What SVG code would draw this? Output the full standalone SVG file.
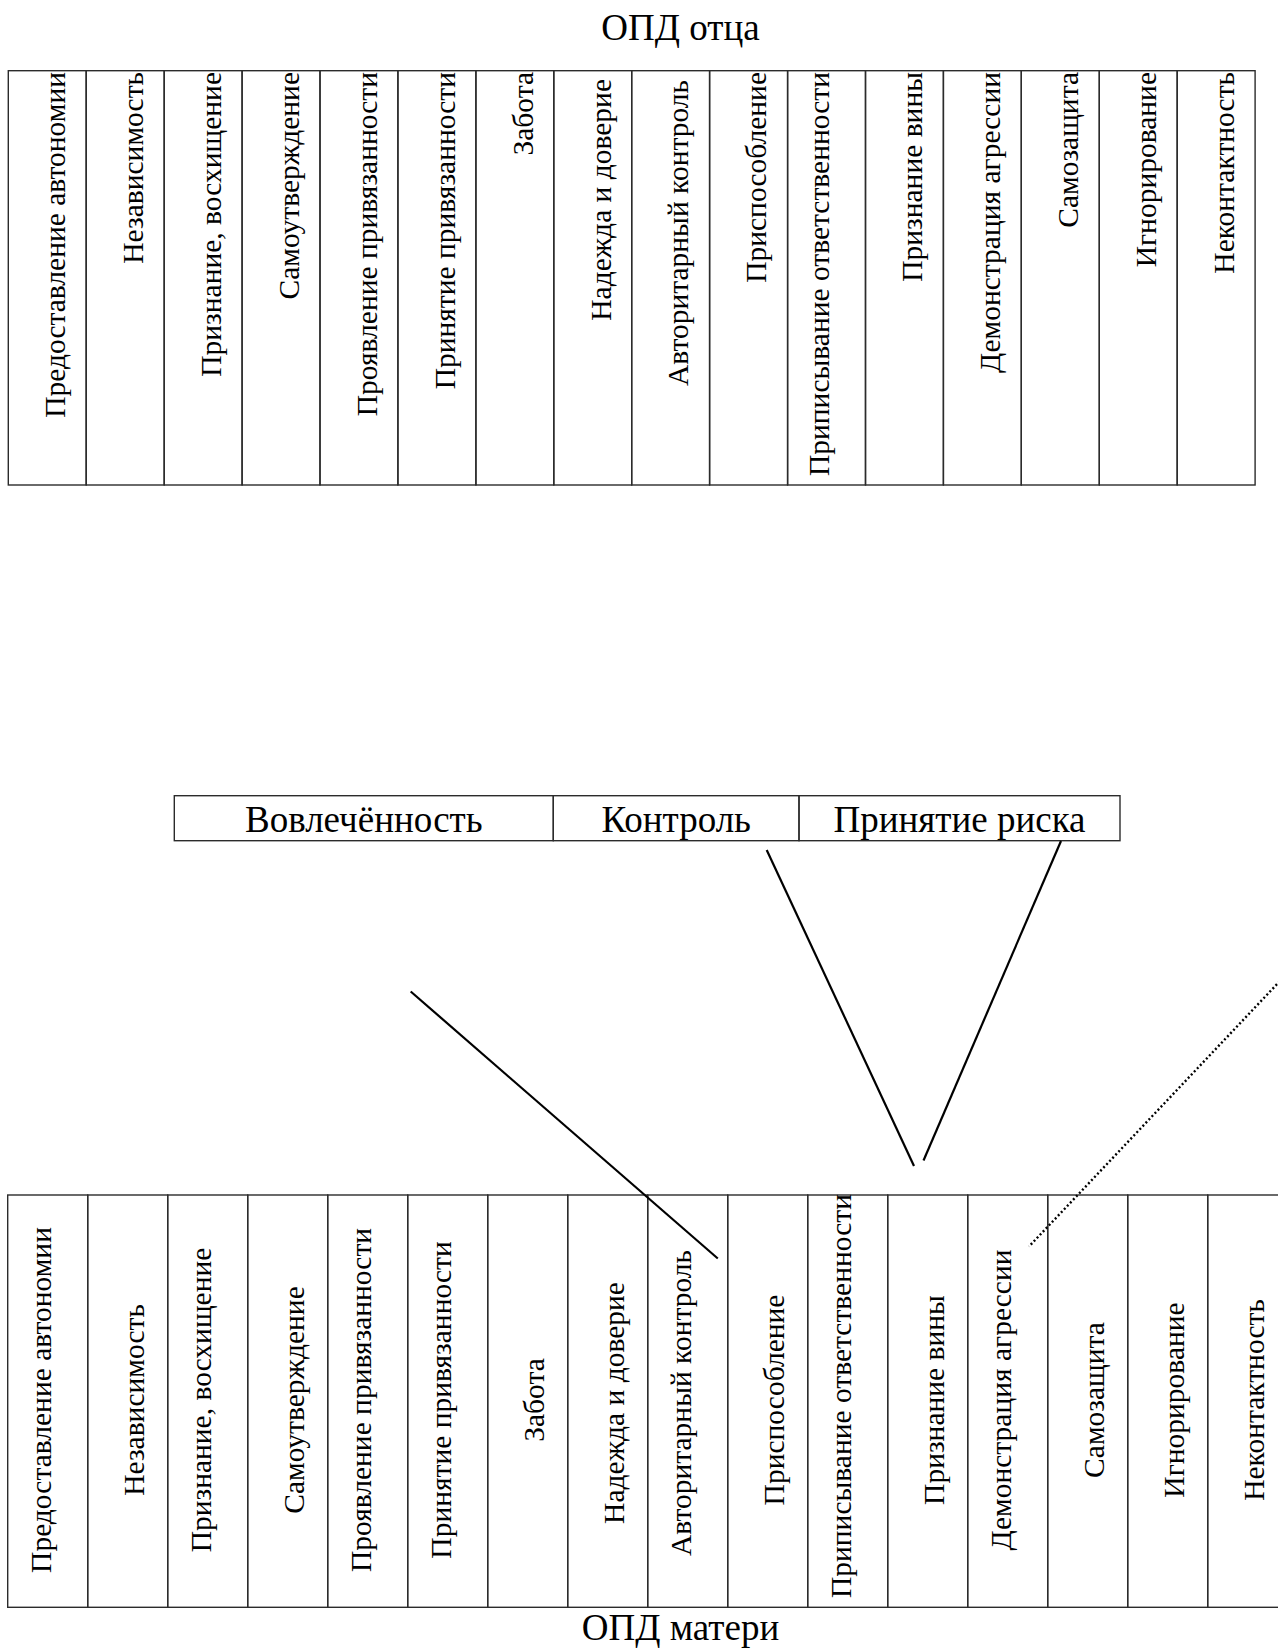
<svg xmlns="http://www.w3.org/2000/svg" width="1278" height="1649" viewBox="0 0 1278 1649">
<style>
.bg{fill:#ffffff}
.cell{fill:none;stroke:#2b2b2b;stroke-width:1.4}
.t{font-family:"Liberation Serif","Times New Roman",serif;fill:#000}
.v{font-size:29.5px}
.h{font-size:37px;text-anchor:middle}
.top{text-anchor:end}
.bot{text-anchor:middle}
.conn{stroke:#000;stroke-width:2.2;fill:none;stroke-linecap:butt}
.dot{stroke:#000;stroke-width:2.4;fill:none;stroke-dasharray:2 2.4}
</style>
<rect class="bg" x="0" y="0" width="1278" height="1649"/>

<g id="title-father"><text class="t h" x="680.5" y="39.5">ОПД отца</text></g>

<g id="father-table">
<g id="f1"><rect class="cell" x="8.3" y="70.7" width="77.9" height="414.3"/><text class="t v top" transform="translate(65,72) rotate(-90)">Предоставление автономии</text></g>
<g id="f2"><rect class="cell" x="86.2" y="70.7" width="78" height="414.3"/><text class="t v top" transform="translate(142.9,72) rotate(-90)">Независимость</text></g>
<g id="f3"><rect class="cell" x="164.2" y="70.7" width="77.9" height="414.3"/><text class="t v top" transform="translate(220.9,72) rotate(-90)">Признание, восхищение</text></g>
<g id="f4"><rect class="cell" x="242.1" y="70.7" width="77.9" height="414.3"/><text class="t v top" transform="translate(298.8,72) rotate(-90)">Самоутверждение</text></g>
<g id="f5"><rect class="cell" x="320" y="70.7" width="77.9" height="414.3"/><text class="t v top" transform="translate(376.7,72) rotate(-90)">Проявление привязанности</text></g>
<g id="f6"><rect class="cell" x="397.9" y="70.7" width="78" height="414.3"/><text class="t v top" transform="translate(454.6,72) rotate(-90)">Принятие привязанности</text></g>
<g id="f7"><rect class="cell" x="475.9" y="70.7" width="77.9" height="414.3"/><text class="t v top" transform="translate(532.6,72) rotate(-90)">Забота</text></g>
<g id="f8"><rect class="cell" x="553.8" y="70.7" width="77.9" height="414.3"/><text class="t v top" transform="translate(610.5,79) rotate(-90)">Надежда и доверие</text></g>
<g id="f9"><rect class="cell" x="631.7" y="70.7" width="77.9" height="414.3"/><text class="t v top" transform="translate(688.4,80) rotate(-90)">Авторитарный контроль</text></g>
<g id="f10"><rect class="cell" x="709.6" y="70.7" width="78" height="414.3"/><text class="t v top" transform="translate(766.3,72) rotate(-90)">Приспособление</text></g>
<g id="f11"><rect class="cell" x="787.6" y="70.7" width="77.9" height="414.3"/><text class="t v top" transform="translate(829.2,72) rotate(-90)">Приписывание ответственности</text></g>
<g id="f12"><rect class="cell" x="865.5" y="70.7" width="77.9" height="414.3"/><text class="t v top" transform="translate(922.2,72) rotate(-90)">Признание вины</text></g>
<g id="f13"><rect class="cell" x="943.4" y="70.7" width="77.9" height="414.3"/><text class="t v top" transform="translate(1000.1,72) rotate(-90)">Демонстрация агрессии</text></g>
<g id="f14"><rect class="cell" x="1021.3" y="70.7" width="78" height="414.3"/><text class="t v top" transform="translate(1078,72) rotate(-90)">Самозащита</text></g>
<g id="f15"><rect class="cell" x="1099.3" y="70.7" width="77.9" height="414.3"/><text class="t v top" transform="translate(1156,72) rotate(-90)">Игнорирование</text></g>
<g id="f16"><rect class="cell" x="1177.2" y="70.7" width="77.9" height="414.3"/><text class="t v top" transform="translate(1233.9,72) rotate(-90)">Неконтактность</text></g>
</g>

<g id="dimensions">
<g id="d-involvement"><rect class="cell" x="174.3" y="795.7" width="379" height="45"/><text class="t h" x="363.8" y="832.3">Вовлечённость</text></g>
<g id="d-control"><rect class="cell" x="553.3" y="795.7" width="245.7" height="45"/><text class="t h" x="676.2" y="832.3">Контроль</text></g>
<g id="d-risk"><rect class="cell" x="799" y="795.7" width="321" height="45"/><text class="t h" x="959.5" y="832.3">Принятие риска</text></g>
</g>

<g id="mother-table">
<g id="m1"><rect class="cell" x="7.7" y="1195" width="80" height="412.3"/><text class="t v bot" transform="translate(50.7,1400) rotate(-90)">Предоставление автономии</text></g>
<g id="m2"><rect class="cell" x="87.7" y="1195" width="80" height="412.3"/><text class="t v bot" transform="translate(143.7,1400) rotate(-90)">Независимость</text></g>
<g id="m3"><rect class="cell" x="167.7" y="1195" width="80" height="412.3"/><text class="t v bot" transform="translate(210.7,1400) rotate(-90)">Признание, восхищение</text></g>
<g id="m4"><rect class="cell" x="247.7" y="1195" width="80" height="412.3"/><text class="t v bot" transform="translate(303.7,1400) rotate(-90)">Самоутверждение</text></g>
<g id="m5"><rect class="cell" x="327.7" y="1195" width="80" height="412.3"/><text class="t v bot" transform="translate(370.7,1400) rotate(-90)">Проявление привязанности</text></g>
<g id="m6"><rect class="cell" x="407.7" y="1195" width="80" height="412.3"/><text class="t v bot" transform="translate(450.7,1400) rotate(-90)">Принятие привязанности</text></g>
<g id="m7"><rect class="cell" x="487.7" y="1195" width="80" height="412.3"/><text class="t v bot" transform="translate(543.7,1400) rotate(-90)">Забота</text></g>
<g id="m8"><rect class="cell" x="567.7" y="1195" width="80" height="412.3"/><text class="t v bot" transform="translate(623.7,1403) rotate(-90)">Надежда и доверие</text></g>
<g id="m9"><rect class="cell" x="647.7" y="1195" width="80" height="412.3"/><text class="t v bot" transform="translate(690.7,1403) rotate(-90)">Авторитарный контроль</text></g>
<g id="m10"><rect class="cell" x="727.7" y="1195" width="80" height="412.3"/><text class="t v bot" transform="translate(783.7,1400) rotate(-90)">Приспособление</text></g>
<g id="m11"><rect class="cell" x="807.7" y="1195" width="80" height="412.3"/><text class="t v bot" transform="translate(850.7,1396) rotate(-90)">Приписывание ответственности</text></g>
<g id="m12"><rect class="cell" x="887.7" y="1195" width="80" height="412.3"/><text class="t v bot" transform="translate(943.7,1400) rotate(-90)">Признание вины</text></g>
<g id="m13"><rect class="cell" x="967.7" y="1195" width="80" height="412.3"/><text class="t v bot" transform="translate(1010.7,1400) rotate(-90)">Демонстрация агрессии</text></g>
<g id="m14"><rect class="cell" x="1047.7" y="1195" width="80" height="412.3"/><text class="t v bot" transform="translate(1103.7,1400) rotate(-90)">Самозащита</text></g>
<g id="m15"><rect class="cell" x="1127.7" y="1195" width="80" height="412.3"/><text class="t v bot" transform="translate(1183.7,1400) rotate(-90)">Игнорирование</text></g>
<g id="m16"><rect class="cell" x="1207.7" y="1195" width="80" height="412.3"/><text class="t v bot" transform="translate(1263.7,1400) rotate(-90)">Неконтактность</text></g>
</g>

<g id="title-mother"><text class="t h" x="680.5" y="1640">ОПД матери</text></g>

<g id="connectors">
<line class="conn" x1="410.7" y1="991.5" x2="717.8" y2="1258.5"/>
<line class="conn" x1="766.7" y1="850" x2="914" y2="1166"/>
<line class="conn" x1="1061" y1="841" x2="923.5" y2="1160.5"/>
<line class="dot" x1="1280" y1="981" x2="1029" y2="1246.5"/>
</g>
</svg>
